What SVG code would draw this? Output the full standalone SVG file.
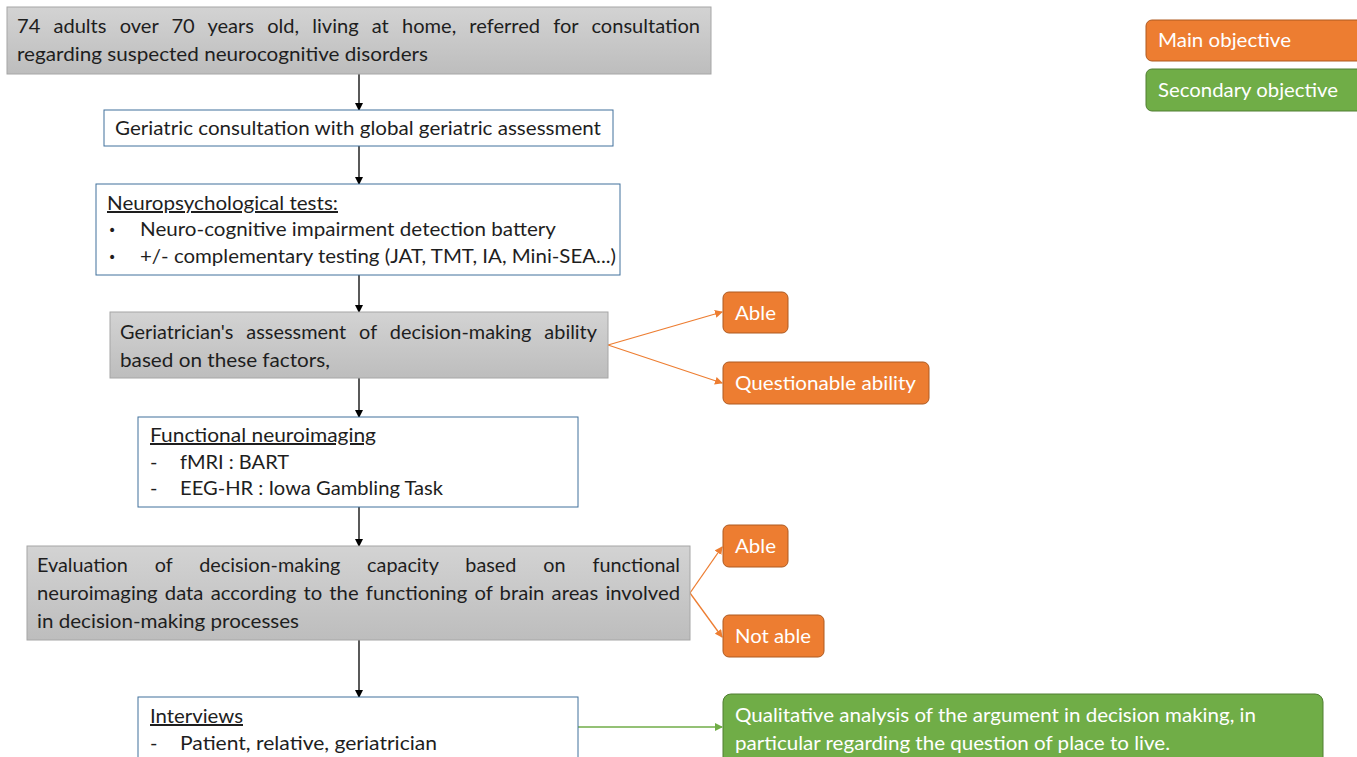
<svg xmlns="http://www.w3.org/2000/svg" width="1357" height="757" viewBox="0 0 1357 757">
<style>
  .t { font-family: Lato, "Open Sans", sans-serif; font-size: 20px; fill: #1e1e1e; }
  .w { font-family: Lato, "Open Sans", sans-serif; font-size: 20px; fill: #ffffff; }
  .b { font-family: "DejaVu Sans", sans-serif; font-size: 14px; fill: #1e1e1e; }
  .u { text-decoration: underline; }
  .gray { fill: url(#g); stroke: #a6a6a6; stroke-width: 1; }
  .white { fill: #ffffff; stroke: #41719c; stroke-width: 1; }
  .orange { fill: #ed7d31; stroke: #ae5a21; stroke-width: 1; }
  .green { fill: #70ad47; stroke: #507e32; stroke-width: 1; }
  .blk { stroke: #000000; stroke-width: 1.3; fill: none; marker-end: url(#ab); }
  .ora { stroke: #ed7d31; stroke-width: 1.3; fill: none; marker-end: url(#ao); }
  .grn { stroke: #70ad47; stroke-width: 1.3; fill: none; marker-end: url(#ag); }
</style>
<defs>
  <linearGradient id="g" x1="0" y1="0" x2="0" y2="1">
    <stop offset="0" stop-color="#d3d3d3"/>
    <stop offset="1" stop-color="#bdbdbd"/>
  </linearGradient>
  <marker id="ab" markerWidth="8" markerHeight="8" refX="7" refY="4" orient="auto" markerUnits="userSpaceOnUse">
    <path d="M0,0 L8,4 L0,8 Z" fill="#000000"/>
  </marker>
  <marker id="ao" markerWidth="8" markerHeight="8" refX="7" refY="4" orient="auto" markerUnits="userSpaceOnUse">
    <path d="M0,0 L8,4 L0,8 Z" fill="#ed7d31"/>
  </marker>
  <marker id="ag" markerWidth="8" markerHeight="8" refX="7" refY="4" orient="auto" markerUnits="userSpaceOnUse">
    <path d="M0,0 L8,4 L0,8 Z" fill="#70ad47"/>
  </marker>
</defs>
<rect width="1357" height="757" fill="#ffffff"/>

<g id="connectors">
  <line class="blk" x1="359" y1="74" x2="359" y2="110"/>
  <line class="blk" x1="359" y1="146" x2="359" y2="184"/>
  <line class="blk" x1="359" y1="275" x2="359" y2="312"/>
  <line class="blk" x1="359" y1="378" x2="359" y2="417"/>
  <line class="blk" x1="359" y1="507" x2="359" y2="546"/>
  <line class="blk" x1="359" y1="640" x2="359" y2="697"/>
  <line class="ora" x1="608" y1="345" x2="722" y2="312"/>
  <line class="ora" x1="608" y1="345" x2="722" y2="383"/>
  <line class="ora" x1="690" y1="593" x2="722" y2="547"/>
  <line class="ora" x1="690" y1="593" x2="722" y2="637"/>
  <line class="grn" x1="578" y1="727" x2="722" y2="727"/>
</g>

<g id="n1">
  <rect class="gray" x="7" y="7" width="704" height="67"/>
  <text class="t" x="17" y="33" textLength="683" lengthAdjust="spacingAndGlyphs" word-spacing="8">74 adults over 70 years old, living at home, referred for consultation</text>
  <text class="t" x="17" y="61" textLength="411" lengthAdjust="spacingAndGlyphs">regarding suspected neurocognitive disorders</text>
</g>

<g id="n2">
  <rect class="white" x="104" y="110" width="509" height="36"/>
  <text class="t" x="115" y="135" textLength="486" lengthAdjust="spacingAndGlyphs">Geriatric consultation with global geriatric assessment</text>
</g>

<g id="n3">
  <rect class="white" x="96" y="184" width="524" height="91"/>
  <text class="t u" x="107" y="210" textLength="231" lengthAdjust="spacingAndGlyphs">Neuropsychological tests:</text>
  <text class="b" x="108" y="235">•</text>
  <text class="t" x="140" y="236" textLength="416" lengthAdjust="spacingAndGlyphs">Neuro-cognitive impairment detection battery</text>
  <text class="b" x="108" y="262">•</text>
  <text class="t" x="140" y="263" textLength="476" lengthAdjust="spacingAndGlyphs">+/- complementary testing (JAT, TMT, IA, Mini-SEA...)</text>
</g>

<g id="n4">
  <rect class="gray" x="110" y="312" width="498" height="66"/>
  <text class="t" x="120" y="339" textLength="477" lengthAdjust="spacingAndGlyphs" word-spacing="8">Geriatrician's assessment of decision-making ability</text>
  <text class="t" x="120" y="367" textLength="210" lengthAdjust="spacingAndGlyphs">based on these factors,</text>
</g>

<g id="n4a">
  <rect class="orange" x="723" y="292" width="65" height="41" rx="6"/>
  <text class="w" x="735" y="320" textLength="41" lengthAdjust="spacingAndGlyphs">Able</text>
</g>
<g id="n4b">
  <rect class="orange" x="723" y="362" width="206" height="42" rx="6"/>
  <text class="w" x="735" y="390" textLength="181" lengthAdjust="spacingAndGlyphs">Questionable ability</text>
</g>

<g id="n5">
  <rect class="white" x="138" y="417" width="440" height="90"/>
  <text class="t u" x="150" y="442" textLength="226" lengthAdjust="spacingAndGlyphs">Functional neuroimaging</text>
  <text class="t" x="150" y="469">-</text>
  <text class="t" x="180" y="469" textLength="109" lengthAdjust="spacingAndGlyphs">fMRI : BART</text>
  <text class="t" x="150" y="495">-</text>
  <text class="t" x="180" y="495" textLength="263" lengthAdjust="spacingAndGlyphs">EEG-HR : Iowa Gambling Task</text>
</g>

<g id="n6">
  <rect class="gray" x="27" y="546" width="663" height="94"/>
  <text class="t" x="37" y="572" textLength="643" lengthAdjust="spacingAndGlyphs" word-spacing="22">Evaluation of decision-making capacity based on functional</text>
  <text class="t" x="37" y="600" textLength="643" lengthAdjust="spacingAndGlyphs" word-spacing="2">neuroimaging data according to the functioning of brain areas involved</text>
  <text class="t" x="37" y="628" textLength="262" lengthAdjust="spacingAndGlyphs">in decision-making processes</text>
</g>

<g id="n6a">
  <rect class="orange" x="723" y="525" width="65" height="42" rx="6"/>
  <text class="w" x="735" y="553" textLength="41" lengthAdjust="spacingAndGlyphs">Able</text>
</g>
<g id="n6b">
  <rect class="orange" x="723" y="615" width="101" height="42" rx="6"/>
  <text class="w" x="735" y="643" textLength="76" lengthAdjust="spacingAndGlyphs">Not able</text>
</g>

<g id="n7">
  <rect class="white" x="138" y="697" width="440" height="90"/>
  <text class="t u" x="150" y="723" textLength="93" lengthAdjust="spacingAndGlyphs">Interviews</text>
  <text class="t" x="150" y="750">-</text>
  <text class="t" x="180" y="750" textLength="257" lengthAdjust="spacingAndGlyphs">Patient, relative, geriatrician</text>
</g>

<g id="n8">
  <rect class="green" x="723" y="694" width="600" height="90" rx="8"/>
  <text class="w" x="735" y="722" textLength="521" lengthAdjust="spacingAndGlyphs">Qualitative analysis of the argument in decision making, in</text>
  <text class="w" x="735" y="750" textLength="435" lengthAdjust="spacingAndGlyphs">particular regarding the question of place to live.</text>
</g>

<g id="legend-main">
  <rect class="orange" x="1146" y="20" width="230" height="41" rx="6"/>
  <text class="w" x="1158" y="47" textLength="133" lengthAdjust="spacingAndGlyphs">Main objective</text>
</g>
<g id="legend-secondary">
  <rect class="green" x="1146" y="69" width="230" height="42" rx="6"/>
  <text class="w" x="1158" y="97" textLength="180" lengthAdjust="spacingAndGlyphs">Secondary objective</text>
</g>
</svg>
